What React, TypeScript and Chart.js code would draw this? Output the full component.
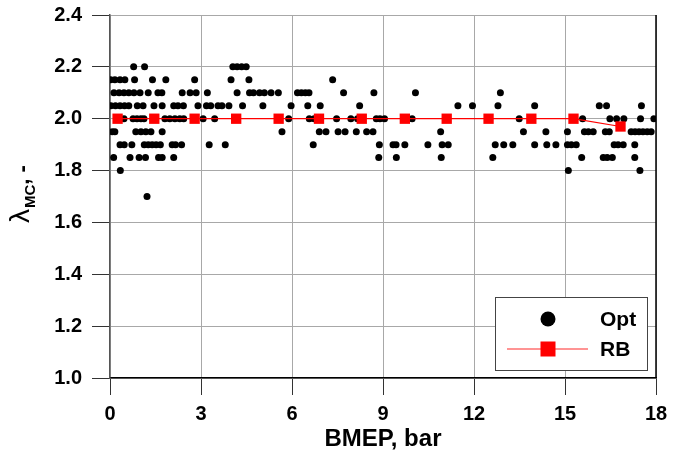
import { useEffect, useRef } from "react";
import { Chart, registerables } from "chart.js";

Chart.register(...registerables);

// Optimal excess-air ratio (λMC) per BMEP, grouped by λ level
const opt220 = [0.78, 1.14, 4.05, 4.19, 4.34, 4.49];
const opt215 = [0.02, 0.16, 0.33, 0.49, 0.81, 1.4, 1.84, 2.79, 3.99, 4.58, 7.34];
const opt210 = [
  0.13, 0.3, 0.46, 0.62, 0.79, 0.99, 1.26, 1.58, 1.71, 2.38, 2.64, 2.84, 3.21, 4.19,
  4.6, 4.73, 4.93, 5.09, 5.31, 5.55, 6.18, 6.31, 6.44, 6.56, 7.7, 8.7, 10.07, 12.87,
];
const opt205 = [
  0.03, 0.18, 0.33, 0.48, 0.62, 0.9, 1.09, 1.45, 1.72, 2.1, 2.24, 2.42, 2.9, 3.18,
  3.32, 3.56, 3.69, 3.92, 4.37, 5.04, 5.97, 6.52, 6.93, 8.23, 11.47, 11.95, 12.79,
  14.0, 16.13, 16.37, 17.52,
];
const opt200 = [
  0.46, 0.76, 0.89, 1.02, 1.12, 1.81, 1.97, 2.14, 2.3, 2.43, 3.07, 3.45, 5.89, 6.57,
  6.73, 7.47, 7.94, 8.16, 8.78, 8.9, 9.05, 9.96, 13.49, 15.58, 16.48, 16.7, 16.94,
  17.49, 17.93,
];
const opt195 = [
  0.07, 0.16, 0.85, 1.02, 1.18, 1.35, 1.72, 5.67, 6.9, 7.12, 7.52, 7.75, 8.12, 8.46,
  8.67, 10.9, 13.63, 14.37, 15.08, 15.64, 15.77, 15.93, 16.33, 16.46, 17.18, 17.31,
  17.44, 17.57, 17.71, 17.84,
];
const opt190 = [
  0.33, 0.47, 0.72, 1.13, 1.26, 1.39, 1.52, 1.66, 2.05, 2.16, 2.36, 3.27, 3.8, 6.7,
  8.88, 9.33, 9.43, 9.72, 10.48, 10.95, 11.15, 12.7, 12.98, 13.28, 14.0, 14.4, 14.7,
  15.08, 15.21, 15.37, 16.62, 16.75, 16.92, 17.3,
];
const opt185 = [
  0.12, 0.66, 0.96, 1.17, 1.6, 1.72, 2.1, 8.86, 9.44, 10.92, 12.62, 15.55, 16.26,
  16.39, 16.56, 17.3,
];
const opt180 = [0.34, 15.11, 17.47];
const opt170 = [1.22];

const optLevels: [number, number[]][] = [
  [2.2, opt220],
  [2.15, opt215],
  [2.1, opt210],
  [2.05, opt205],
  [2.0, opt200],
  [1.95, opt195],
  [1.9, opt190],
  [1.85, opt185],
  [1.8, opt180],
  [1.7, opt170],
];

// Rule-based calibration
const rbBmep = [0.25, 1.46, 2.79, 4.16, 5.56, 6.89, 8.3, 9.72, 11.1, 12.48, 13.89, 15.28, 16.83];
const rbLambda = [2.0, 2.0, 2.0, 2.0, 2.0, 2.0, 2.0, 2.0, 2.0, 2.0, 2.0, 2.0, 1.97];

const xTicks = [0, 3, 6, 9, 12, 15, 18];
const yTicks = [1.0, 1.2, 1.4, 1.6, 1.8, 2.0, 2.2, 2.4];

const FONT = "'Liberation Sans', Arial, sans-serif";

const decorations = {
  id: "decorations",
  afterDraw(chart: any) {
    const { ctx, chartArea } = chart;
    const { left, right, top, bottom } = chartArea;
    ctx.save();

    // right frame edge
    ctx.strokeStyle = "#000";
    ctx.lineWidth = 1.5;
    ctx.beginPath();
    ctx.moveTo(right, top);
    ctx.lineTo(right, bottom);
    ctx.stroke();

    // x axis title
    ctx.fillStyle = "#000";
    ctx.font = `bold 24px ${FONT}`;
    ctx.textAlign = "center";
    ctx.textBaseline = "alphabetic";
    ctx.fillText("BMEP, bar", (left + right) / 2, 446);

    // y axis title: λ with subscript MC
    ctx.save();
    ctx.translate(29, 223);
    ctx.rotate(-Math.PI / 2);
    ctx.textAlign = "left";
    ctx.font = `28px ${FONT}`;
    ctx.fillText("λ", 0, 0);
    const w1 = ctx.measureText("λ").width;
    ctx.font = `bold 15px ${FONT}`;
    ctx.fillText("MC", w1 + 1, 6);
    const w2 = ctx.measureText("MC").width;
    ctx.font = `bold 22px ${FONT}`;
    ctx.fillText(", -", w1 + 1 + w2, 0);
    ctx.restore();

    // legend
    const bx = 495, by = 297, bw = 152, bh = 73;
    ctx.fillStyle = "#fff";
    ctx.fillRect(bx, by, bw, bh);
    ctx.strokeStyle = "#444";
    ctx.lineWidth = 1;
    ctx.strokeRect(bx + 0.5, by + 0.5, bw, bh);

    ctx.fillStyle = "#000";
    ctx.beginPath();
    ctx.arc(548, 319, 7.5, 0, Math.PI * 2);
    ctx.fill();

    ctx.strokeStyle = "#ff7070";
    ctx.lineWidth = 1.5;
    ctx.beginPath();
    ctx.moveTo(507, 349);
    ctx.lineTo(588, 349);
    ctx.stroke();
    ctx.fillStyle = "#ff0000";
    ctx.fillRect(548 - 7.5, 349 - 7.5, 15, 15);

    ctx.fillStyle = "#000";
    ctx.font = `bold 21px ${FONT}`;
    ctx.textAlign = "left";
    ctx.textBaseline = "middle";
    ctx.fillText("Opt", 600, 320);
    ctx.fillText("RB", 600, 350);

    ctx.restore();
  },
};

export default function App() {
  const canvasRef = useRef<HTMLCanvasElement | null>(null);

  useEffect(() => {
    const canvas = canvasRef.current;
    if (!canvas) return;

    const optPoints = optLevels.flatMap(([lam, xs]) => xs.map((x) => ({ x, y: lam })));
    const rbPoints = rbBmep.map((x, i) => ({ x, y: rbLambda[i] }));

    const tickFont = { family: FONT, size: 20, weight: "bold" as const };

    const chart = new Chart(canvas, {
      type: "scatter",
      data: {
        datasets: [
          {
            label: "Opt",
            data: optPoints,
            order: 1,
            pointRadius: 3.5,
            pointHoverRadius: 3.5,
            pointBackgroundColor: "#000",
            pointBorderWidth: 0,
            showLine: false,
          },
          {
            label: "RB",
            data: rbPoints,
            order: 0,
            showLine: true,
            borderColor: "#ff0000",
            borderWidth: 1.2,
            pointStyle: "rect",
            pointRadius: 7.3,
            pointHoverRadius: 7.3,
            pointBackgroundColor: "#ff0000",
            pointBorderWidth: 0,
          },
        ],
      },
      options: {
        responsive: false,
        animation: false,
        devicePixelRatio: 1,
        layout: { padding: { top: 15, right: 29, left: 0, bottom: 0 } },
        plugins: { legend: { display: false }, tooltip: { enabled: false } },
        events: [],
        scales: {
          x: {
            type: "linear",
            min: 0,
            max: 18,
            afterBuildTicks: (s: any) => {
              s.ticks = xTicks.map((v) => ({ value: v }));
            },
            afterFit: (s: any) => {
              s.height = 88;
              s.paddingLeft = 0;
              s.paddingRight = 0;
            },
            ticks: {
              font: tickFont,
              color: "#000",
              padding: 7,
              maxRotation: 0,
              callback: (v: any) => String(v),
            },
            grid: { color: "#a8a8a8", tickColor: "#333", tickLength: 17, lineWidth: 1 },
            border: { color: "#000", width: 1.5 },
          },
          y: {
            min: 1.0,
            max: 2.4,
            afterBuildTicks: (s: any) => {
              s.ticks = yTicks.map((v) => ({ value: v }));
            },
            afterFit: (s: any) => {
              s.width = 110;
              s.paddingTop = 0;
              s.paddingBottom = 0;
            },
            ticks: {
              font: tickFont,
              color: "#000",
              padding: 10,
              callback: (v: any) => Number(v).toFixed(1),
            },
            grid: { color: "#a8a8a8", tickColor: "#333", tickLength: 18, lineWidth: 1 },
            border: { color: "#555", width: 1.5 },
          },
        },
      },
      plugins: [decorations],
    });

    return () => chart.destroy();
  }, []);

  return (
    <canvas
      ref={canvasRef}
      width={685}
      height={466}
      style={{ position: "fixed", left: 0, top: 0, display: "block", background: "#fff" }}
    />
  );
}
